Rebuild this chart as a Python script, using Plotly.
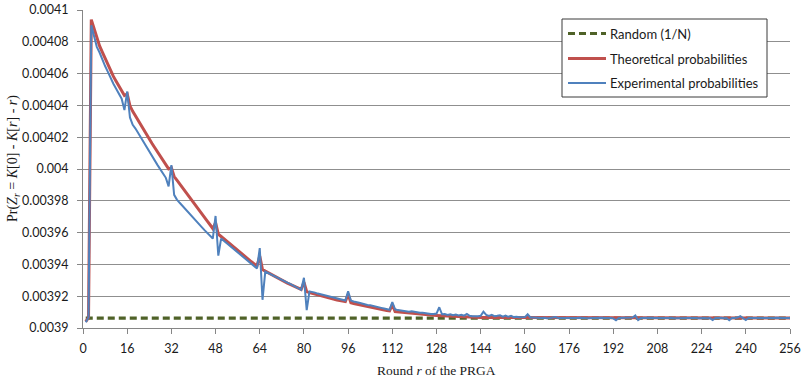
import plotly.graph_objects as go

# ---------------- data ----------------
rounds = list(range(1, 257))

random_prob = [0.00390625] * 256

theoretical = [
    0.00390405, 0.00390655, 0.00409395, 0.00408835, 0.00408285, 0.00407745, 0.00407345, 0.00406945, 0.00406545, 0.00406155,
    0.00405825, 0.00405525, 0.00405225, 0.00404925, 0.00404625, 0.00404725, 0.00403975, 0.00403625, 0.00403325, 0.00403025,
    0.00402725, 0.00402425, 0.00402125, 0.00401875, 0.00401605, 0.00401335, 0.00401065, 0.00400795, 0.00400525, 0.00400265,
    0.00400005, 0.00400075, 0.00399525, 0.00399295, 0.00399055, 0.00398825, 0.00398595, 0.00398355, 0.00398125, 0.00397895,
    0.00397655, 0.00397425, 0.00397195, 0.00396955, 0.00396725, 0.00396495, 0.00396255, 0.00396625, 0.00395905, 0.00395755,
    0.00395605, 0.00395455, 0.00395305, 0.00395155, 0.00395005, 0.00394865, 0.00394725, 0.00394585, 0.00394445, 0.00394305,
    0.00394165, 0.00394035, 0.00393905, 0.00394525, 0.00393675, 0.00393575, 0.00393475, 0.00393375, 0.00393275, 0.00393185,
    0.00393095, 0.00393005, 0.00392915, 0.00392825, 0.00392745, 0.00392665, 0.00392585, 0.00392505, 0.00392425, 0.00392875,
    0.00392285, 0.00392225, 0.00392175, 0.00392125, 0.00392075, 0.00392025, 0.00391975, 0.00391925, 0.00391885, 0.00391845,
    0.00391805, 0.00391765, 0.00391725, 0.00391695, 0.00391665, 0.00392125, 0.00391585, 0.00391545, 0.00391505, 0.00391465,
    0.00391425, 0.00391385, 0.00391345, 0.00391305, 0.00391265, 0.00391225, 0.00391195, 0.00391165, 0.00391135, 0.00391105,
    0.00391075, 0.00391475, 0.00391035, 0.00391015, 0.00390995, 0.00390975, 0.00390955, 0.00390935, 0.00390915, 0.00390895,
    0.00390875, 0.00390865, 0.00390845, 0.00390835, 0.00390815, 0.00390805, 0.00390795, 0.00390785, 0.00390775, 0.00390765,
    0.00390755, 0.00390745, 0.00390735, 0.00390725, 0.00390715, 0.00390715, 0.00390705, 0.00390695, 0.00390695, 0.00390685,
    0.00390685, 0.00390675, 0.00390675, 0.00390665, 0.00390665, 0.00390665, 0.00390655, 0.00390655, 0.00390655, 0.00390645,
    0.00390645, 0.00390645, 0.00390645, 0.00390645, 0.00390645, 0.00390635, 0.00390635, 0.00390635, 0.00390635, 0.00390635,
] + [0.00390625] * 96

experimental = [
    0.00390365, 0.00390665, 0.00409035, 0.00408425, 0.00407685, 0.00407325, 0.00406875, 0.00406475, 0.00406105, 0.00405705,
    0.00405365, 0.00405045, 0.00404745, 0.00404425, 0.00403705, 0.00404875, 0.00403245, 0.00402775, 0.00402545, 0.00402255,
    0.00401955, 0.00401625, 0.00401345, 0.00401085, 0.00400825, 0.00400545, 0.00400245, 0.00399975, 0.00399675, 0.00399445,
    0.00398905, 0.00400245, 0.00398375, 0.00398075, 0.00397875, 0.00397675, 0.00397485, 0.00397305, 0.00397125, 0.00396945,
    0.00396745, 0.00396525, 0.00396345, 0.00396155, 0.00395975, 0.00395775, 0.00395625, 0.00397045, 0.00394555, 0.00395625,
    0.00395485, 0.00395325, 0.00395175, 0.00395025, 0.00394865, 0.00394725, 0.00394585, 0.00394455, 0.00394305, 0.00394175,
    0.00394025, 0.00393885, 0.00393745, 0.00395025, 0.00391775, 0.00393545, 0.00393455, 0.00393355, 0.00393255, 0.00393175,
    0.00393095, 0.00393025, 0.00392945, 0.00392855, 0.00392775, 0.00392685, 0.00392605, 0.00392525, 0.00392405, 0.00393155,
    0.00391125, 0.00392305, 0.00392275, 0.00392225, 0.00392165, 0.00392125, 0.00392085, 0.00392025, 0.00391975, 0.00391945,
    0.00391905, 0.00391865, 0.00391815, 0.00391775, 0.00391725, 0.00392305, 0.00391725, 0.00391665, 0.00391605, 0.00391585,
    0.00391545, 0.00391485, 0.00391445, 0.00391425, 0.00391375, 0.00391325, 0.00391305, 0.00391265, 0.00391225, 0.00391205,
    0.00391145, 0.00391625, 0.00391175, 0.00391125, 0.00391095, 0.00391085, 0.00391065, 0.00391025, 0.00391045, 0.00391005,
    0.00390995, 0.00390955, 0.00390965, 0.00390925, 0.00390905, 0.00390885, 0.00390875, 0.00390905, 0.00391305, 0.00390865,
    0.00390875, 0.00390825, 0.00390865, 0.00390805, 0.00390845, 0.00390785, 0.00390825, 0.00390775, 0.00390885, 0.00390765,
    0.00390745, 0.00390725, 0.00390745, 0.00390765, 0.00391025, 0.00390825, 0.00390765, 0.00390825, 0.00390745, 0.00390765,
    0.00390805, 0.00390715, 0.00390785, 0.00390705, 0.00390765, 0.00390685, 0.00390705, 0.00390675, 0.00390685, 0.00390685,
    0.00390865, 0.00390665, 0.00390655, 0.00390635, 0.00390655, 0.00390625, 0.00390645, 0.00390615, 0.00390635, 0.00390655,
    0.00390685, 0.00390635, 0.00390625, 0.00390615, 0.00390645, 0.00390625, 0.00390635, 0.00390615, 0.00390625, 0.00390645,
    0.00390625, 0.00390635, 0.00390615, 0.00390625, 0.00390635, 0.00390625, 0.00390615, 0.00390645, 0.00390625, 0.00390635,
    0.00390625, 0.00390605, 0.00390485, 0.00390625, 0.00390635, 0.00390615, 0.00390645, 0.00390625, 0.00390655, 0.00390785,
    0.00390505, 0.00390625, 0.00390635, 0.00390625, 0.00390615, 0.00390645, 0.00390625, 0.00390635, 0.00390615, 0.00390625,
    0.00390635, 0.00390625, 0.00390645, 0.00390615, 0.00390625, 0.00390635, 0.00390625, 0.00390615, 0.00390635, 0.00390625,
    0.00390645, 0.00390625, 0.00390615, 0.00390635, 0.00390625, 0.00390615, 0.00390625, 0.00390505, 0.00390635, 0.00390625,
    0.00390645, 0.00390615, 0.00390625, 0.00390485, 0.00390635, 0.00390625, 0.00390655, 0.00390745, 0.00390625, 0.00390505,
    0.00390635, 0.00390625, 0.00390615, 0.00390645, 0.00390625, 0.00390635, 0.00390625, 0.00390615, 0.00390635, 0.00390625,
    0.00390645, 0.00390625, 0.00390615, 0.00390625, 0.00390635, 0.00390625,
]

x_tick_vals = [0, 16, 32, 48, 64, 80, 96, 112, 128, 144, 160, 176, 192, 208, 224, 240, 256]
x_tick_text = ["0", "16", "32", "48", "64", "80", "96", "112", "128", "144", "160",
               "176", "192", "208", "224", "240", "256"]
y_tick_vals = [0.0039, 0.00392, 0.00394, 0.00396, 0.00398, 0.004,
               0.00402, 0.00404, 0.00406, 0.00408, 0.0041]
y_tick_text = ["0.0039", "0.00392", "0.00394", "0.00396", "0.00398", "0.004",
               "0.00402", "0.00404", "0.00406", "0.00408", "0.0041"]

series_names = ["Random (1/N)", "Theoretical probabilities", "Experimental probabilities"]
series_colors = ["#4F6228", "#C0504D", "#4F81BD"]

# ---------------- layout helpers ----------------
FIG_W, FIG_H = 803, 380
M_L, M_R, M_T, M_B = 83, 13, 10, 52
PW = FIG_W - M_L - M_R
PH = FIG_H - M_T - M_B


def px_x(px):
    return (px - M_L) / PW


def px_y(py):
    return (FIG_H - M_B - py) / PH


SANS = "Lato, 'Open Sans', sans-serif"
TICK_FONT = dict(family=SANS, size=12.5, color="#1a1a1a")
SERIF = "'Liberation Serif', 'DejaVu Serif', serif"

fig = go.Figure()
fig.add_trace(go.Scatter(x=rounds, y=random_prob, mode="lines", name=series_names[0],
                         line=dict(color=series_colors[0], width=3.2, dash="7px,4px")))
fig.add_trace(go.Scatter(x=rounds, y=theoretical, mode="lines", name=series_names[1],
                         line=dict(color=series_colors[1], width=3)))
fig.add_trace(go.Scatter(x=rounds, y=experimental, mode="lines", name=series_names[2],
                         line=dict(color=series_colors[2], width=2)))

fig.update_layout(
    width=FIG_W, height=FIG_H,
    margin=dict(l=M_L, r=M_R, t=M_T, b=M_B, autoexpand=False),
    paper_bgcolor="white", plot_bgcolor="white",
    showlegend=False,
    xaxis=dict(range=[0, 256], tickvals=x_tick_vals, ticktext=x_tick_text, automargin=False,
               showgrid=False, zeroline=False, showline=True, linecolor="#868686", linewidth=1,
               ticks="outside", ticklen=5, tickcolor="#868686", tickfont=TICK_FONT,
               ticklabelstandoff=4),
    yaxis=dict(range=[0.0039, 0.0041], tickvals=y_tick_vals, ticktext=y_tick_text, automargin=False,
               showgrid=True, gridcolor="#8f8f8f", gridwidth=1, zeroline=False,
               showline=True, linecolor="#868686", linewidth=1,
               ticks="outside", ticklen=5, tickcolor="#868686", tickfont=TICK_FONT,
               ticklabelstandoff=6),
)

annotations = [
    dict(xref="paper", yref="paper", x=0.5, y=px_y(370), xanchor="center", yanchor="middle",
         showarrow=False, font=dict(family=SERIF, size=13.5, color="#1a1a1a"),
         text="Round <i>r</i> of the PRGA"),
    dict(xref="paper", yref="paper", x=px_x(13), y=px_y(159), xanchor="center", yanchor="middle",
         showarrow=False, textangle=-90, font=dict(family=SERIF, size=14, color="#1a1a1a"),
         text="Pr(<i>Z</i><sub><i>r</i></sub> = <i>K</i>[0] - <i>K</i>[<i>r</i>] - <i>r</i>)"),
]

# legend drawn as a box with sample lines and labels
shapes = [dict(type="rect", xref="paper", yref="paper",
               x0=px_x(562), x1=px_x(767), y0=px_y(97), y1=px_y(19),
               line=dict(color="#3a3a3a", width=1), fillcolor="white", layer="above")]
legend_rows = [33.5, 58.5, 83]
legend_dash = ["7px,4px", "solid", "solid"]
legend_width = [3.2, 3, 2]
for i, name in enumerate(series_names):
    shapes.append(dict(type="line", xref="paper", yref="paper",
                       x0=px_x(568), x1=px_x(606), y0=px_y(legend_rows[i]), y1=px_y(legend_rows[i]),
                       line=dict(color=series_colors[i], width=legend_width[i], dash=legend_dash[i]),
                       layer="above"))
    annotations.append(dict(xref="paper", yref="paper", x=px_x(608), y=px_y(legend_rows[i]),
                            xanchor="left", yanchor="middle", showarrow=False,
                            font=dict(family=SANS, size=13, color="#1a1a1a"),
                            text=name))

fig.update_layout(annotations=annotations, shapes=shapes)
fig.write_html("out.html", config={"displayModeBar": False},
               post_script="document.body.style.margin='0';document.body.style.padding='0';"
                           "document.body.style.overflow='hidden';")
